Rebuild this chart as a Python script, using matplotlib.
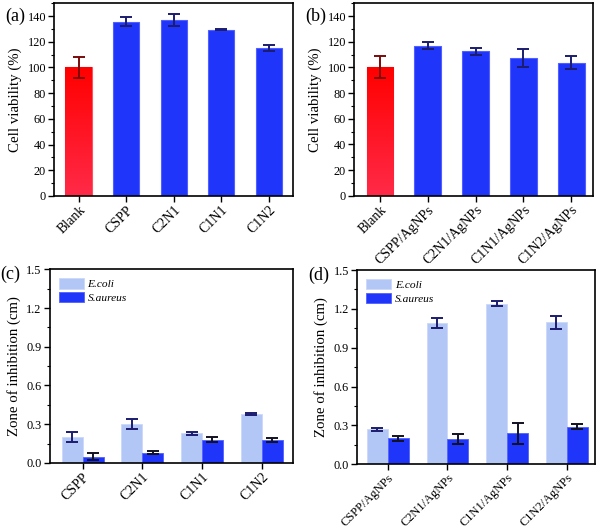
import numpy as np
import matplotlib
matplotlib.use("Agg")
import matplotlib.pyplot as plt
from matplotlib.ticker import MultipleLocator
from matplotlib.colors import LinearSegmentedColormap

plt.rcParams['font.family'] = ['Liberation Serif', 'DejaVu Serif']
plt.rcParams['font.size'] = 10

# (a) cell viability, plain films
cats_a = ["Blank", "CSPP", "C2N1", "C1N1", "C1N2"]
via_a = [100, 135.5, 137, 129.5, 115]
err_a = [8, 3.5, 4.5, 0.5, 2.5]

# (b) cell viability, AgNPs films
cats_b = ["Blank", "CSPP/AgNPs", "C2N1/AgNPs", "C1N1/AgNPs", "C1N2/AgNPs"]
via_b = [100, 117, 112.5, 107, 103.5]
err_b = [8.5, 2.5, 2.5, 7, 5]

# (c) zone of inhibition, plain films
cats_c = ["CSPP", "C2N1", "C1N1", "C1N2"]
ecoli_c = [0.20, 0.30, 0.23, 0.38]
ecoli_c_err = [0.04, 0.04, 0.01, 0.01]
saur_c = [0.05, 0.08, 0.18, 0.18]
saur_c_err = [0.03, 0.01, 0.02, 0.015]

# (d) zone of inhibition, AgNPs films
cats_d = ["CSPP/AgNPs", "C2N1/AgNPs", "C1N1/AgNPs", "C1N2/AgNPs"]
ecoli_d = [0.27, 1.09, 1.24, 1.095]
ecoli_d_err = [0.01, 0.04, 0.02, 0.05]
saur_d = [0.20, 0.195, 0.24, 0.29]
saur_d_err = [0.02, 0.04, 0.08, 0.02]

red = '#ff1020'
blue = '#2035fa'
light = '#b3c7f7'
navy = '#1c1c70'
darkred = '#7a0a0a'

fig = plt.figure(figsize=(6, 5.29), dpi=100)
ax_a = fig.add_axes([0.0905, 0.6295, 0.3975, 0.3645])
ax_b = fig.add_axes([0.5905, 0.6300, 0.3985, 0.3640])
ax_c = fig.add_axes([0.0830, 0.1248, 0.4050, 0.3662])
ax_d = fig.add_axes([0.5955, 0.1223, 0.3962, 0.3673])


def style(ax, minor, xsize):
    for s in ax.spines.values():
        s.set_linewidth(1.2)
    ax.tick_params(axis='both', which='major', direction='out', length=4, width=1,
                   top=False, right=False, pad=2)
    ax.tick_params(axis='y', which='major', labelsize=8.8)
    ax.tick_params(axis='x', which='major', labelsize=xsize, pad=1.5)
    ax.tick_params(axis='y', which='minor', direction='out', length=2, width=0.8)
    ax.yaxis.set_minor_locator(MultipleLocator(minor))
    ax.tick_params(axis='x', which='minor', bottom=False)


def gradient_bar(ax, bar):
    # red bar fades slightly toward pink at the bottom
    x0, y0 = bar.get_x(), bar.get_y()
    w, h = bar.get_width(), bar.get_height()
    grad = np.linspace(0, 1, 100).reshape(-1, 1)
    cm = LinearSegmentedColormap.from_list('rg', ['#ff0000', '#ff2a48'])
    im = ax.imshow(grad, extent=[x0, x0 + w, y0, y0 + h], origin='upper', aspect='auto',
                   cmap=cm, zorder=bar.get_zorder())
    im.set_clip_path(bar)


def viability(ax, cats, vals, errs, xlim, tag):
    x = np.arange(len(cats))
    colors = [red] + [blue] * (len(cats) - 1)
    edges = ['#ff5060'] + ['#5060ff'] * (len(cats) - 1)
    bars = ax.bar(x, vals, width=0.55, color=colors, edgecolor=edges, linewidth=0.8, zorder=2)
    gradient_bar(ax, bars[0])
    ecols = [darkred] + [navy] * (len(cats) - 1)
    for xi, v, e, c in zip(x, vals, errs, ecols):
        ax.errorbar(xi, v, yerr=e, fmt='none', ecolor=c, elinewidth=1.4, capsize=4,
                    capthick=1.4, zorder=3)
    ax.set_xlim(*xlim)
    ax.set_ylim(0, 150)
    ax.set_yticks(np.arange(0, 141, 20))
    ax.set_xticks(x)
    ax.set_xticklabels(cats, rotation=45, ha='right', rotation_mode='anchor')
    ax.set_ylabel("Cell viability (%)", fontsize=10.7, labelpad=4)
    style(ax, 10, 10)
    ax.text(-0.205, 0.93, tag, transform=ax.transAxes, fontsize=13, ha='left', va='center')


def inhibition(ax, cats, e, ee, s, se, xlim, tag, xsize):
    x = np.arange(len(cats))
    w = 0.35
    ax.bar(x - w / 2, e, width=w, color=light, edgecolor='#cad8fa', linewidth=0.6,
           label='E.coli', zorder=2)
    ax.bar(x + w / 2, s, width=w, color=blue, edgecolor='#5060ff', linewidth=0.6,
           label='S.aureus', zorder=2)
    ax.errorbar(x - w / 2, e, yerr=ee, fmt='none', ecolor=navy, elinewidth=1.4,
                capsize=4, capthick=1.4, zorder=3)
    ax.errorbar(x + w / 2, s, yerr=se, fmt='none', ecolor='#111122', elinewidth=1.4,
                capsize=4, capthick=1.4, zorder=3)
    ax.set_xlim(*xlim)
    ax.set_ylim(0, 1.5)
    ticks = np.arange(0, 1.51, 0.3)
    ax.set_yticks(ticks)
    ax.set_yticklabels([f"{v:.1f}" for v in ticks])
    ax.set_xticks(x)
    ax.set_xticklabels(cats, rotation=45, ha='right', rotation_mode='anchor')
    ax.set_ylabel("Zone of inhibition (cm)", fontsize=10.7, labelpad=4)
    style(ax, 0.15, xsize)
    leg = ax.legend(loc='upper left', frameon=False, fontsize=8.2, handlelength=2.2,
                    handleheight=1.0, borderaxespad=0.4, handletextpad=0.3, labelspacing=0.25)
    for t in leg.get_texts():
        t.set_fontstyle('italic')
    ax.text(-0.205, 0.975, tag, transform=ax.transAxes, fontsize=13, ha='left', va='center')


viability(ax_a, cats_a, via_a, err_a, (-0.51, 4.5), "(a)")
viability(ax_b, cats_b, via_b, err_b, (-0.53, 4.46), "(b)")
inhibition(ax_c, cats_c, ecoli_c, ecoli_c_err, saur_c, saur_c_err, (-0.55, 3.52), "(c)", 10)
inhibition(ax_d, cats_d, ecoli_d, ecoli_d_err, saur_d, saur_d_err, (-0.51, 3.47), "(d)", 8.9)

fig.savefig("out.png", dpi=100)
